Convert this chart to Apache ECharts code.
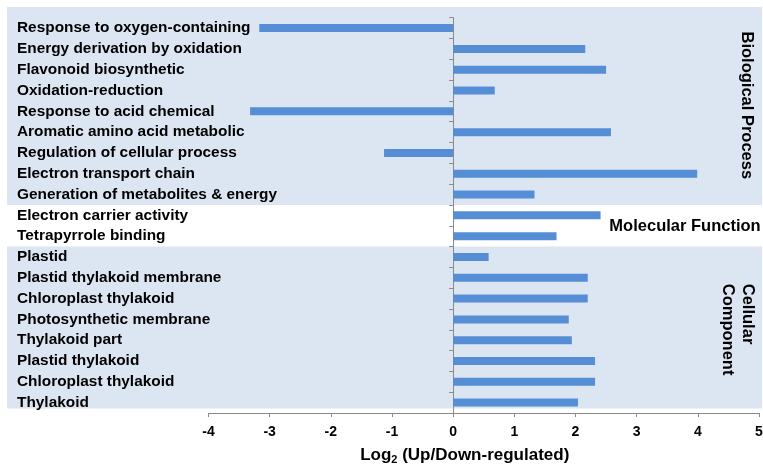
<!DOCTYPE html>
<html>
<head>
<meta charset="utf-8">
<script src="https://cdn.jsdelivr.net/npm/echarts@6/dist/echarts.min.js"></script>
<style>
html,body{margin:0;padding:0;background:#fff;}
#chart{width:763px;height:467px;}
</style>
</head>
<body>
<div id="chart"></div>
<script>
const categories = [
  'Response to oxygen-containing',
  'Energy derivation by oxidation',
  'Flavonoid biosynthetic',
  'Oxidation-reduction',
  'Response to acid chemical',
  'Aromatic amino acid metabolic',
  'Regulation of cellular process',
  'Electron transport chain',
  'Generation of metabolites & energy',
  'Electron carrier activity',
  'Tetrapyrrole binding',
  'Plastid',
  'Plastid thylakoid membrane',
  'Chloroplast thylakoid',
  'Photosynthetic membrane',
  'Thylakoid part',
  'Plastid thylakoid',
  'Chloroplast thylakoid ',
  'Thylakoid'
];
const values = [-3.17, 2.16, 2.50, 0.68, -3.32, 2.58, -1.13, 3.99, 1.33,
                 2.41, 1.69,
                 0.58, 2.20, 2.20, 1.89, 1.94, 2.32, 2.32, 2.04];
const groups = [
  {name: 'Biological Process', start: 0, end: 8, fill: '#dce6f2'},
  {name: 'Molecular Function', start: 9, end: 10, fill: '#ffffff'},
  {name: 'Cellular\nComponent', start: 11, end: 18, fill: '#dce6f2'}
];
const xTicks = [-4, -3, -2, -1, 0, 1, 2, 3, 4, 5];

const FONT = '"Liberation Sans", Arial, sans-serif';
const chart = echarts.init(document.getElementById('chart'));
const option = {
  animation: false,
  backgroundColor: '#ffffff',
  grid: {left: 208.5, right: 4, top: 17.7, bottom: 54, containLabel: false, outerBoundsMode: 'none'},
  xAxis: {
    type: 'value',
    min: xTicks[0], max: xTicks[xTicks.length - 1], interval: 1,
    splitLine: {show: false},
    axisLine: {show: true, onZero: false, lineStyle: {color: '#8a8a8a', width: 1}},
    axisTick: {show: true, length: 4, lineStyle: {color: '#8a8a8a'}},
    axisLabel: {color: '#000', fontFamily: FONT, fontWeight: 'bold', fontSize: 14, margin: 12},
    name: 'Log{sub|2} (Up/Down-regulated)',
    nameLocation: 'middle',
    nameGap: 33,
    nameTextStyle: {
      color: '#000', fontFamily: FONT, fontWeight: 'bold', fontSize: 17,
      padding: [0, 38, 0, 0],
      rich: {sub: {fontSize: 11, fontWeight: 'bold', fontFamily: FONT, color: '#000', verticalAlign: 'bottom', padding: [8, 0, 0, 0]}}
    }
  },
  yAxis: [{
    type: 'category', data: categories, inverse: true,
    axisLine: {show: false, onZero: false},
    axisTick: {show: false},
    axisLabel: {align: 'left', margin: 191.5, color: '#000', fontFamily: FONT, fontWeight: 'bold', fontSize: 15.4}
  }, {
    type: 'category', data: categories, inverse: true,
    position: 'left',
    axisLine: {show: true, onZero: true, lineStyle: {color: '#8a8a8a'}},
    axisTick: {show: true, length: 4, lineStyle: {color: '#8a8a8a'}},
    axisLabel: {show: false}
  }],
  series: [{
    type: 'bar', data: values, yAxisIndex: 0,
    barWidth: 8,
    itemStyle: {color: '#558ed5'},
    z: 3
  }]
};
chart.setOption(option);

function drawBands() {
  const c0 = chart.convertToPixel({yAxisIndex: 0}, 0);
  const c1 = chart.convertToPixel({yAxisIndex: 0}, 1);
  const step = c1 - c0;
  const gl = 7, gr = 762;
  const els = [];
  groups.forEach((g, i) => {
    let top = chart.convertToPixel({yAxisIndex: 0}, g.start) - step / 2;
    let bot = chart.convertToPixel({yAxisIndex: 0}, g.end) + step / 2;
    if (i === 0) top -= 10.7;
    if (i === groups.length - 1) bot -= 4.5;
    els.push({type: 'rect', z: -10, silent: true,
      shape: {x: gl, y: top, width: gr - gl, height: bot - top},
      style: {fill: g.fill}});
  });
  const mid = (a, b) => (chart.convertToPixel({yAxisIndex: 0}, a) + chart.convertToPixel({yAxisIndex: 0}, b)) / 2;
  const txt = {fill: '#000', font: 'bold 16.5px ' + FONT, textAlign: 'center', textVerticalAlign: 'middle'};
  els.push({type: 'text', z: 10, x: 746.5, y: mid(groups[0].start, groups[0].end) - 6, rotation: -Math.PI / 2,
    style: Object.assign({text: groups[0].name}, txt)});
  els.push({type: 'text', z: 10, x: 685, y: mid(groups[1].start, groups[1].end) + 0.5,
    style: Object.assign({text: groups[1].name}, txt)});
  els.push({type: 'text', z: 10, x: 738, y: mid(groups[2].start, groups[2].end) - 46, rotation: -Math.PI / 2,
    style: Object.assign({}, txt, {text: groups[2].name, lineHeight: 20, textAlign: 'left'})});
  chart.setOption({graphic: {elements: els}});
}
drawBands();
</script>
</body>
</html>
